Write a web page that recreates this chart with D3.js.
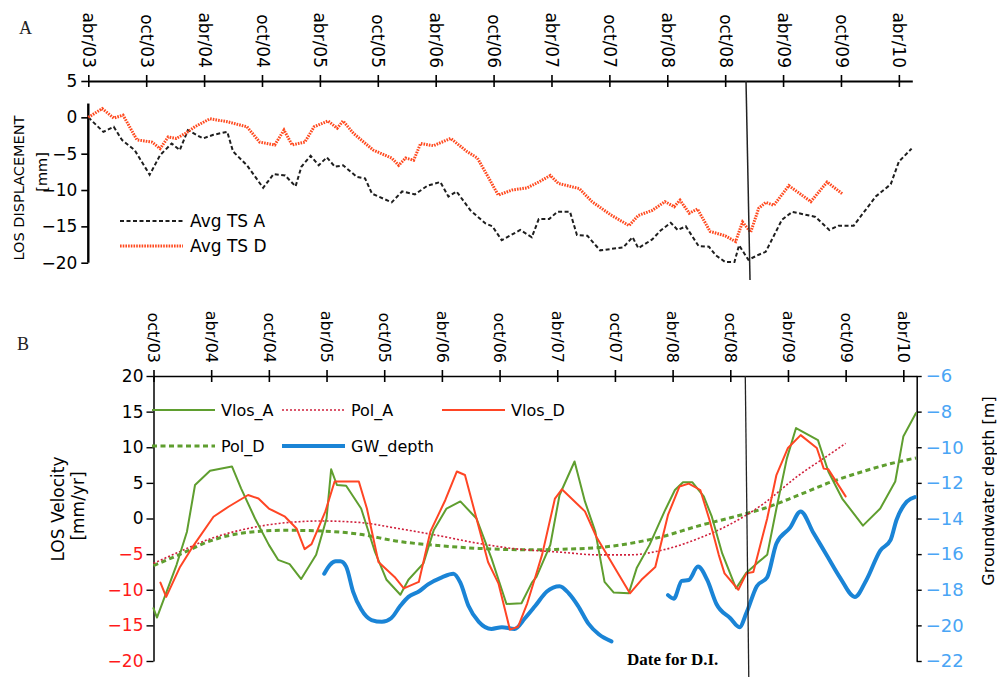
<!DOCTYPE html>
<html>
<head>
<meta charset="utf-8">
<script src="https://cdn.jsdelivr.net/npm/d3@7"></script>
<style>
  body { margin: 0; background: #fff; }
  svg { display: block; }
  text { font-family: "DejaVu Sans", Verdana, sans-serif; }
</style>
</head>
<body>
<svg id="chart" width="997" height="677"></svg>
<script>
// ---------- data ----------
// time is in decimal years; "abr" = April (.25), "oct" = October (.75)
const tickLabelsA = ["abr/03","oct/03","abr/04","oct/04","abr/05","oct/05","abr/06","oct/06",
                     "abr/07","oct/07","abr/08","oct/08","abr/09","oct/09","abr/10"];
const tickLabelsB = ["oct/03","abr/04","oct/04","abr/05","oct/05","abr/06","oct/06",
                     "abr/07","oct/07","abr/08","oct/08","abr/09","oct/09","abr/10"];
const yTicksA  = [5, 0, -5, -10, -15, -20];
const yTicksB  = [20, 15, 10, 5, 0, -5, -10, -15, -20];
const yTicksGW = [-6, -8, -10, -12, -14, -16, -18, -20, -22];

// date for D.I., as marked on panel A and on panel B
const eventYearA = 2008.93;
const eventYearB = 2008.88;

// Panel A: average LOS displacement time series [year, mm]
const avgTsA = [
  [2003.25,0],[2003.38,-2.0],[2003.47,-1.3],[2003.54,-3.1],[2003.65,-4.5],[2003.78,-7.9],
  [2003.87,-5.2],[2003.97,-3.6],[2004.04,-4.5],[2004.11,-1.75],[2004.24,-2.9],[2004.33,-2.4],
  [2004.45,-2.0],[2004.50,-4.7],[2004.62,-6.6],[2004.76,-9.7],[2004.85,-7.8],[2004.95,-8.0],
  [2005.04,-9.5],[2005.09,-6.8],[2005.17,-5.3],[2005.24,-6.6],[2005.31,-5.5],[2005.38,-6.8],
  [2005.45,-6.6],[2005.57,-8.2],[2005.64,-8.4],[2005.70,-10.5],[2005.87,-11.7],[2005.96,-10.2],
  [2006.07,-10.6],[2006.18,-9.4],[2006.29,-8.9],[2006.36,-10.9],[2006.43,-10.2],[2006.55,-12.8],
  [2006.68,-14.6],[2006.74,-15.0],[2006.82,-16.9],[2006.98,-15.5],[2007.08,-16.5],[2007.14,-14.0],
  [2007.23,-14.0],[2007.30,-13.0],[2007.41,-13.0],[2007.47,-16.2],[2007.56,-16.3],[2007.67,-18.3],
  [2007.87,-17.9],[2007.95,-16.5],[2008.00,-18.0],[2008.12,-16.8],[2008.19,-15.6],[2008.28,-14.5],
  [2008.34,-15.5],[2008.41,-15.0],[2008.52,-17.7],[2008.61,-17.8],[2008.67,-19.0],[2008.75,-19.9],
  [2008.83,-19.9],[2008.87,-17.6],[2008.95,-19.6],[2009.04,-18.9],[2009.10,-18.5],[2009.24,-14.1],
  [2009.33,-13.0],[2009.53,-13.7],[2009.65,-15.5],[2009.73,-14.9],[2009.86,-14.9],[2010.05,-10.9],
  [2010.18,-9.2],[2010.25,-6.1],[2010.36,-4.3]
];
const avgTsD = [
  [2003.25,0],[2003.37,1.2],[2003.47,-0.1],[2003.55,0.3],[2003.67,-3.1],[2003.80,-3.4],
  [2003.87,-4.3],[2003.94,-2.7],[2004.01,-2.9],[2004.09,-2.2],[2004.17,-1.3],[2004.30,-0.2],
  [2004.45,-0.6],[2004.62,-1.3],[2004.73,-3.4],[2004.86,-3.8],[2004.94,-1.75],[2005.01,-3.8],
  [2005.12,-3.4],[2005.20,-1.3],[2005.32,-0.5],[2005.40,-1.5],[2005.45,-0.5],[2005.54,-2.2],
  [2005.71,-4.5],[2005.87,-5.6],[2005.93,-6.6],[2005.99,-5.6],[2006.06,-5.9],[2006.12,-3.6],
  [2006.23,-3.9],[2006.38,-2.9],[2006.52,-4.7],[2006.61,-5.6],[2006.71,-8.4],[2006.79,-10.7],
  [2006.91,-10.0],[2007.04,-9.7],[2007.14,-8.9],[2007.24,-8.0],[2007.31,-9.1],[2007.49,-9.8],
  [2007.60,-11.6],[2007.76,-13.4],[2007.92,-14.9],[2008.00,-13.5],[2008.12,-12.8],[2008.23,-11.6],
  [2008.31,-12.3],[2008.36,-11.4],[2008.44,-13.2],[2008.51,-12.6],[2008.62,-15.7],[2008.75,-16.3],
  [2008.84,-17.1],[2008.90,-14.4],[2008.97,-15.8],[2009.04,-12.5],[2009.10,-11.7],[2009.17,-12.1],
  [2009.30,-9.4],[2009.49,-11.6],[2009.63,-8.9],[2009.76,-10.5]
];

// Panel B: LOS velocity [year, mm/yr]
const vlosA = [
  [2003.75,-12.6],[2003.78,-13.9],[2003.95,-6.5],[2004.04,-1.85],[2004.11,4.7],[2004.24,6.7],
  [2004.43,7.3],[2004.51,4.2],[2004.63,0.0],[2004.75,-3.7],[2004.83,-5.8],[2004.93,-6.4],
  [2005.03,-8.5],[2005.16,-5.1],[2005.25,0.0],[2005.29,6.9],[2005.34,4.7],[2005.42,4.6],
  [2005.55,1.4],[2005.67,-4.7],[2005.77,-8.6],[2005.89,-10.7],[2005.96,-8.6],[2006.09,-6.3],
  [2006.18,-1.6],[2006.29,1.4],[2006.41,2.4],[2006.55,0.0],[2006.68,-5.6],[2006.81,-12.0],
  [2006.94,-11.9],[2007.03,-9.0],[2007.07,-8.2],[2007.19,-3.7],[2007.27,3.3],[2007.40,8.0],
  [2007.49,2.4],[2007.58,-1.85],[2007.66,-8.9],[2007.74,-10.4],[2007.87,-10.5],[2007.94,-6.9],
  [2008.05,-3.7],[2008.18,1.0],[2008.27,4.0],[2008.34,5.1],[2008.42,5.1],[2008.52,3.1],
  [2008.59,0.25],[2008.68,-4.9],[2008.80,-9.8],[2008.89,-7.6],[2008.98,-6.3],[2009.07,-5.1],
  [2009.15,1.4],[2009.24,8.4],[2009.32,12.7],[2009.51,11.0],[2009.60,6.6],[2009.72,2.8],
  [2009.90,-1.0],[2010.05,1.4],[2010.18,5.2],[2010.25,11.5],[2010.36,14.8]
];
const vlosD = [
  [2003.81,-9.0],[2003.86,-11.0],[2003.98,-6.8],[2004.08,-4.2],[2004.27,0.25],[2004.40,1.65],
  [2004.57,3.3],[2004.66,2.8],[2004.75,1.4],[2004.89,0.25],[2004.99,-1.4],[2005.06,-4.3],
  [2005.12,-3.6],[2005.24,1.0],[2005.32,5.2],[2005.53,5.2],[2005.60,1.4],[2005.70,-6.1],
  [2005.84,-8.2],[2005.92,-9.8],[2006.05,-8.9],[2006.15,-1.85],[2006.28,2.6],[2006.38,6.6],
  [2006.45,6.1],[2006.65,-6.1],[2006.74,-9.1],[2006.84,-15.6],[2006.91,-15.2],[2006.99,-11.9],
  [2007.06,-8.2],[2007.12,-5.0],[2007.23,2.8],[2007.29,4.1],[2007.49,1.0],[2007.59,-2.6],
  [2007.77,-7.5],[2007.88,-10.5],[2007.98,-8.6],[2008.10,-6.8],[2008.21,0.5],[2008.31,4.5],
  [2008.39,4.9],[2008.49,4.0],[2008.57,-0.2],[2008.65,-5.1],[2008.70,-7.7],[2008.82,-10.0],
  [2008.89,-7.7],[2008.95,-7.5],[2009.07,0.0],[2009.15,6.1],[2009.25,9.9],[2009.36,11.7],
  [2009.50,9.9],[2009.56,7.0],[2009.60,6.9],[2009.75,3.1]
];
const polA = [
  [2003.75,-6.3],[2003.97,-4.7],[2004.25,-2.8],[2004.54,-1.5],[2004.89,-0.6],[2005.21,-0.35],
  [2005.53,-0.55],[2005.87,-1.4],[2006.22,-2.4],[2006.57,-3.5],[2006.86,-4.2],[2007.30,-4.75],
  [2007.59,-5.1],[2007.88,-5.1],[2008.17,-4.4],[2008.46,-2.9],[2008.75,-0.8],[2009.04,2.1],
  [2009.33,5.9],[2009.62,9.1],[2009.75,10.55]
];
const polD = [
  [2003.75,-6.6],[2003.97,-5.1],[2004.25,-3.1],[2004.54,-2.0],[2004.89,-1.65],[2005.21,-1.75],
  [2005.53,-2.2],[2005.87,-3.2],[2006.22,-3.8],[2006.57,-4.2],[2007.06,-4.4],[2007.30,-4.3],
  [2007.59,-4.1],[2007.88,-3.5],[2008.17,-2.5],[2008.46,-1.1],[2008.75,0.1],[2009.04,1.4],
  [2009.33,3.2],[2009.62,5.1],[2009.90,6.6],[2010.19,7.9],[2010.36,8.5]
];
// Groundwater depth [year, m] (two gauged periods)
const gwDepth1 = [
  [2005.23,-17.1],[2005.28,-16.6],[2005.33,-16.4],[2005.37,-16.4],[2005.42,-16.7],[2005.48,-18.1],
  [2005.55,-19.1],[2005.64,-19.7],[2005.73,-19.8],[2005.81,-19.6],[2005.89,-18.9],[2005.96,-18.4],
  [2006.05,-18.1],[2006.13,-17.7],[2006.25,-17.3],[2006.35,-17.1],[2006.41,-17.6],[2006.48,-18.9],
  [2006.57,-19.8],[2006.68,-20.2],[2006.77,-20.1],[2006.88,-20.2],[2006.97,-19.6],[2007.06,-18.9],
  [2007.16,-18.1],[2007.27,-17.8],[2007.35,-18.2],[2007.43,-18.9],[2007.52,-19.9],[2007.61,-20.5],
  [2007.72,-20.9]
];
const gwDepth2 = [
  [2008.21,-18.3],[2008.26,-18.5],[2008.33,-17.5],[2008.39,-17.45],[2008.47,-16.7],[2008.55,-17.45],
  [2008.63,-18.8],[2008.75,-19.6],[2008.83,-20.1],[2008.89,-19.3],[2008.98,-17.8],[2009.07,-17.3],
  [2009.15,-15.4],[2009.27,-14.5],[2009.36,-13.6],[2009.47,-14.8],[2009.59,-16.1],[2009.70,-17.3],
  [2009.83,-18.4],[2009.93,-17.45],[2010.05,-15.8],[2010.14,-15.2],[2010.19,-14.1],[2010.28,-13.05],
  [2010.35,-12.8]
];

// ---------- helpers ----------
const monthFrac = { abr: 0.25, oct: 0.75 };
const labelToYear = s => { const [m, y] = s.split("/"); return 2000 + (+y) + monthFrac[m]; };

const svg = d3.select("#chart");
const SANS = '"DejaVu Sans", Verdana, sans-serif';
const SERIF = '"Liberation Serif", "Times New Roman", serif';

const C = {
  tsA: "#1e1e1e", tsD: "#ff4a1f",
  vlosA: "#5f9e2f", vlosD: "#ff4524", polA: "#d0203c", polD: "#5f9e2f",
  gw: "#1a84d6", negLabel: "#ff1a1a", gwLabel: "#4aa5f5"
};

function topTimeAxis(g, x, labels, fontSize, width) {
  const axis = d3.axisTop(x)
    .tickValues(labels.map(labelToYear))
    .tickFormat((d, i) => labels[i])
    .tickSizeInner(6).tickSizeOuter(0);
  g.call(axis);
  g.select(".domain").attr("stroke", "#000").attr("stroke-width", width);
  g.selectAll(".tick line").attr("y1", 6).attr("y2", -6).attr("stroke", "#000").attr("stroke-width", 1.6);
  g.selectAll(".tick text")
    .attr("transform", "rotate(90)")
    .attr("x", -13).attr("y", 0).attr("dy", "0.35em")
    .style("text-anchor", "end")
    .style("font-family", SANS).style("font-size", fontSize + "px").attr("fill", "#000");
}

// ---------- panel A ----------
const xA = d3.scaleLinear().domain([2003.25, 2010.366]).range([88.3, 912.3]);
const yA = d3.scaleLinear().domain([-20, 5]).range([262.7, 81]);

const gA = svg.append("g");
gA.append("text").attr("x", 19).attr("y", 34).text("A")
  .style("font-family", SERIF).style("font-size", "18px").attr("fill", "#222");

topTimeAxis(gA.append("g").attr("transform", "translate(0,81)"), xA, tickLabelsA, 17, 2);

const axA = gA.append("g").attr("transform", `translate(${xA.range()[0]},0)`)
  .call(d3.axisLeft(yA).tickValues(yTicksA).tickSizeInner(7).tickSizeOuter(0).tickPadding(4));
axA.select(".domain").remove();
axA.selectAll(".tick line").attr("stroke", "#000").attr("stroke-width", 1.6);
axA.selectAll(".tick text").style("font-family", SANS).style("font-size", "17px").attr("fill", "#000");
gA.append("line")
  .attr("x1", xA.range()[0]).attr("x2", xA.range()[0])
  .attr("y1", yA(1.9)).attr("y2", yA(-20))
  .attr("stroke", "#000").attr("stroke-width", 2.4);

gA.append("text").attr("transform", "translate(19,188) rotate(-90)")
  .attr("text-anchor", "middle").attr("dy", "0.35em")
  .style("font-size", "14.5px").text("LOS DISPLACEMENT");
gA.append("text").attr("transform", "translate(42,172) rotate(-90)")
  .attr("text-anchor", "middle").attr("dy", "0.35em")
  .style("font-size", "14.5px").text("[mm]");

const lineA = d3.line().x(d => xA(d[0])).y(d => yA(d[1]));
gA.append("path").datum(avgTsA).attr("d", lineA).attr("fill", "none")
  .attr("stroke", C.tsA).attr("stroke-width", 2).attr("stroke-dasharray", "4,2.5");
gA.append("path").datum(avgTsD).attr("d", lineA).attr("fill", "none")
  .attr("stroke", C.tsD).attr("stroke-width", 3).attr("stroke-dasharray", "1.6,1.1");

// event marker in panel A
gA.append("line")
  .attr("x1", xA(eventYearA)).attr("y1", 81)
  .attr("x2", xA(eventYearA) + 4).attr("y2", 280)
  .attr("stroke", "#222").attr("stroke-width", 1.5);

// legend A
const legA = [
  { name: "Avg TS A", color: C.tsA, w: 2, dash: "4,2.5" },
  { name: "Avg TS D", color: C.tsD, w: 3, dash: "1.6,1.1" }
];
legA.forEach((d, i) => {
  const y = 221 + i * 25;
  gA.append("line").attr("x1", 120).attr("x2", 183).attr("y1", y).attr("y2", y)
    .attr("stroke", d.color).attr("stroke-width", d.w).attr("stroke-dasharray", d.dash);
  gA.append("text").attr("x", 190).attr("y", y).attr("dy", "0.35em")
    .style("font-size", "17px").text(d.name);
});

// ---------- panel B ----------
const xB = d3.scaleLinear().domain([2003.75, 2010.366]).range([153.5, 916.7]);
const yB = d3.scaleLinear().domain([-20, 20]).range([661, 376]);
const yGW = d3.scaleLinear().domain([-22, -6]).range([661, 376]);

const gB = svg.append("g");
gB.append("text").attr("x", 17).attr("y", 350).text("B")
  .style("font-family", SERIF).style("font-size", "18px").attr("fill", "#222");

topTimeAxis(gB.append("g").attr("transform", "translate(0,376)"), xB, tickLabelsB, 16, 1.5);

const axBL = gB.append("g").attr("transform", `translate(${xB.range()[0]},0)`)
  .call(d3.axisLeft(yB).tickValues(yTicksB).tickSizeInner(7).tickSizeOuter(0).tickPadding(3));
axBL.select(".domain").attr("stroke", "#000").attr("stroke-width", 1.5);
axBL.selectAll(".tick line").attr("stroke", "#000").attr("stroke-width", 1.4);
axBL.selectAll(".tick text").style("font-family", SANS).style("font-size", "17px")
  .attr("fill", d => d < 0 ? C.negLabel : "#000");

const axBR = gB.append("g").attr("transform", `translate(${xB.range()[1]},0)`)
  .call(d3.axisRight(yGW).tickValues(yTicksGW).tickSizeInner(5).tickSizeOuter(0).tickPadding(4));
axBR.select(".domain").attr("stroke", "#000").attr("stroke-width", 1.5);
axBR.selectAll(".tick line").attr("stroke", "#000").attr("stroke-width", 1.4);
axBR.selectAll(".tick text").style("font-family", SANS).style("font-size", "18px")
  .attr("fill", C.gwLabel);

gB.append("text").attr("transform", "translate(58,509) rotate(-90)")
  .attr("text-anchor", "middle").attr("dy", "0.35em")
  .style("font-size", "17px").text("LOS Velocity");
gB.append("text").attr("transform", "translate(78,506) rotate(-90)")
  .attr("text-anchor", "middle").attr("dy", "0.35em")
  .style("font-size", "17px").text("[mm/yr]");
gB.append("text").attr("transform", "translate(988,491) rotate(-90)")
  .attr("text-anchor", "middle").attr("dy", "0.35em")
  .style("font-size", "16px").text("Groundwater depth [m]");

const lineB = d3.line().x(d => xB(d[0])).y(d => yB(d[1]));
const smoothB = d3.line().x(d => xB(d[0])).y(d => yB(d[1])).curve(d3.curveMonotoneX);
const lineGW = d3.line().x(d => xB(d[0])).y(d => yGW(d[1])).curve(d3.curveMonotoneX);

const seriesB = [
  { data: polD, gen: smoothB, color: C.polD, w: 3, dash: "5,3.5" },
  { data: polA, gen: smoothB, color: C.polA, w: 1.6, dash: "2,2" },
  { data: gwDepth1, gen: lineGW, color: C.gw, w: 4, dash: null },
  { data: gwDepth2, gen: lineGW, color: C.gw, w: 4, dash: null },
  { data: vlosA, gen: lineB, color: C.vlosA, w: 2, dash: null },
  { data: vlosD, gen: lineB, color: C.vlosD, w: 2, dash: null }
];
seriesB.forEach(s => {
  gB.append("path").datum(s.data).attr("d", s.gen).attr("fill", "none")
    .attr("stroke", s.color).attr("stroke-width", s.w)
    .attr("stroke-linejoin", "round")
    .attr("stroke-linecap", s.dash ? "butt" : "round")
    .attr("stroke-dasharray", s.dash);
});

// event marker in panel B
gB.append("line")
  .attr("x1", xB(eventYearB)).attr("y1", 376)
  .attr("x2", xB(eventYearB) + 3.5).attr("y2", 677)
  .attr("stroke", "#222").attr("stroke-width", 1.3);
gB.append("text").attr("x", 627).attr("y", 665).text("Date for D.I.")
  .style("font-family", SERIF).style("font-size", "17px").style("font-weight", "bold");

// legend B
const legB = [
  { name: "Vlos_A",   color: C.vlosA, w: 2,   dash: null,  x: 152, row: 0 },
  { name: "Pol_A",    color: C.polA,  w: 1.6, dash: "2,2", x: 282, row: 0 },
  { name: "Vlos_D",   color: C.vlosD, w: 2,   dash: null,  x: 442, row: 0 },
  { name: "Pol_D",    color: C.polD,  w: 3,   dash: "5,3.5", x: 152, row: 1 },
  { name: "GW_depth", color: C.gw,    w: 4,   dash: null,  x: 282, row: 1 }
];
legB.forEach(d => {
  const y = 410 + d.row * 36;
  gB.append("line").attr("x1", d.x).attr("x2", d.x + 63).attr("y1", y).attr("y2", y)
    .attr("stroke", d.color).attr("stroke-width", d.w).attr("stroke-dasharray", d.dash);
  gB.append("text").attr("x", d.x + 69).attr("y", y).attr("dy", "0.35em")
    .style("font-size", "16px").text(d.name);
});
</script>
</body>
</html>
